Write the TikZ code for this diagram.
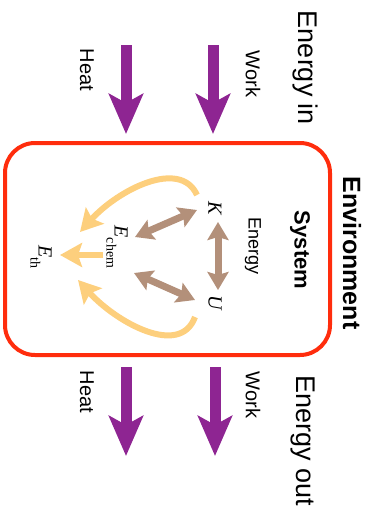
\documentclass[tikz,border=0pt]{standalone}
\usepackage{fontspec}
\setmainfont{Liberation Sans}
\newfontfamily\serif{Liberation Serif}
\usetikzlibrary{arrows.meta}
\definecolor{purp}{HTML}{8E2592}
\definecolor{brwn}{HTML}{B3907A}
\definecolor{ylw}{HTML}{FDCF7D}
\definecolor{boxred}{HTML}{FF2D0D}
\tikzset{
  lbl/.style={rotate=-90, inner sep=0pt, font=\fontsize{20}{22}\selectfont},
  big/.style={rotate=-90, inner sep=0pt, font=\fontsize{27}{30}\selectfont},
  math/.style={rotate=-90, inner sep=0pt, font=\serif\itshape\fontsize{20}{22}\selectfont},
  flow/.style={purp, line width=11pt, -{Stealth[length=40pt,width=34pt,inset=9pt]}},
  conv/.style={brwn, line width=7pt, {Stealth[length=18pt,width=21pt,inset=3pt]}-{Stealth[length=18pt,width=21pt,inset=3pt]}},
  heat/.style={ylw, line width=6pt, -{Stealth[length=22pt,width=24pt,inset=4pt]}},
}
\begin{document}
\begin{tikzpicture}[x=1pt,y=-1pt]
\useasboundingbox (0,0) rectangle (373,512);
% top
\node[big] (ein) at (305,68) {Energy in};
\node[lbl] (wtop) at (253,74) {Work};
\node[lbl] (htop) at (87,70) {Heat};
\coordinate (h1s) at (126,45); \coordinate (h1e) at (126,134);
\coordinate (w1s) at (213,45); \coordinate (w1e) at (213,134);
\draw[flow] (h1s) -- (h1e);
\draw[flow] (w1s) -- (w1e);
% system box
\draw[boxred, line width=4pt, rounded corners=30pt] (5,143) rectangle (330,355);
\node[rotate=-90, inner sep=0pt, font=\bfseries\fontsize{25}{28}\selectfont] (env) at (352,253) {Environment};
\node[rotate=-90, inner sep=0pt, font=\bfseries\fontsize{22}{25}\selectfont] (sys) at (300,250) {System};
\node[rotate=-90, inner sep=0pt, font=\fontsize{18}{20}\selectfont] (en) at (253,246) {Energy};
\node[math] (K) at (215,208) {K};
\node[math] (U) at (215,303) {U};
\node[math, anchor=center] (Ech) at (117,247) {E\raisebox{-8pt}{\upshape\fontsize{14}{14}\selectfont chem}};
\node[math] (Eth) at (41,257) {E\raisebox{-8pt}{\upshape\fontsize{14}{14}\selectfont th}};
% conversions
\coordinate (kd) at (218,222); \coordinate (ud) at (218,290);
\draw[conv] (kd) -- (ud);
\coordinate (ke) at (197,210); \coordinate (ek) at (135,237);
\draw[conv] (ke) -- (ek);
\coordinate (ue) at (195,300); \coordinate (eu) at (134,273);
\draw[conv] (ue) -- (eu);
% dissipation
\coordinate (kt) at (197,195); \coordinate (tk) at (80,232);
\draw[heat] (kt) .. controls (180,158) and (118,190) .. (tk);
\coordinate (ut) at (195,317); \coordinate (tu) at (78,280);
\draw[heat] (ut) .. controls (180,358) and (116,322) .. (tu);
\coordinate (ct) at (103,255); \coordinate (tc) at (60,255);
\draw[heat] (ct) -- (tc);
% bottom
\coordinate (h2s) at (126,367); \coordinate (h2e) at (126,456);
\coordinate (w2s) at (215,367); \coordinate (w2e) at (215,456);
\draw[flow] (h2s) -- (h2e);
\draw[flow] (w2s) -- (w2e);
\node[lbl] (hbot) at (87,392) {Heat};
\node[lbl] (wbot) at (253,395) {Work};
\node[big] (eout) at (303,441) {Energy out};
\end{tikzpicture}
\end{document}
